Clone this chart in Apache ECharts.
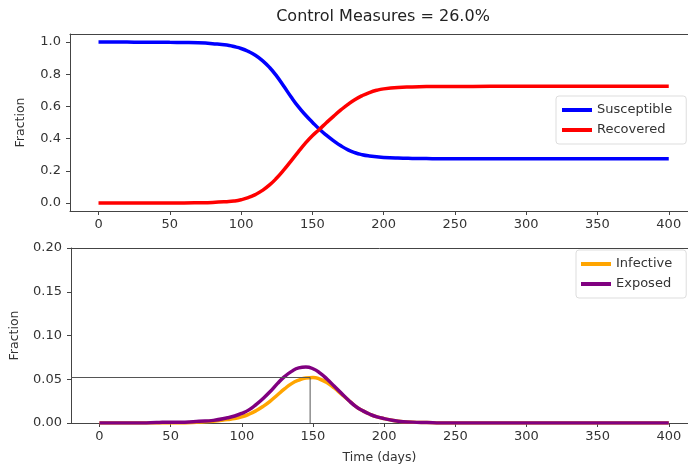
<!DOCTYPE html>
<html>
<head>
<meta charset="utf-8">
<script src="https://cdn.jsdelivr.net/npm/echarts@6/dist/echarts.min.js"></script>
<style>
    html, body { margin: 0; padding: 0; background: #fff; }
    #container { width: 688px; height: 468px; }
</style>
</head>
<body>
<div id="container"></div>
<script type="text/javascript">
    // time axis (days) and the four compartments
    var days = [0, 10, 20, 30, 40, 50, 60, 70, 80, 90,
        95, 100, 105, 110, 115, 120, 125, 130, 135, 140, 145, 150, 155, 160, 165, 170, 175, 180, 185, 190, 195, 200,
        210, 220, 230, 240, 250,
        275, 300, 325, 350, 375, 400];
    var susceptible = [1.000, 1.000, 1.000, 0.999, 0.999, 0.998, 0.997, 0.995, 0.990, 0.982,
        0.972, 0.960, 0.942, 0.918, 0.885, 0.842, 0.788, 0.725, 0.660, 0.600, 0.548, 0.502, 0.458, 0.420, 0.386, 0.355, 0.330, 0.312, 0.300, 0.292, 0.287, 0.283,
        0.279, 0.277, 0.276, 0.275, 0.275,
        0.275, 0.275, 0.275, 0.275, 0.275, 0.275];
    var recovered = [0, 0, 0, 0, 0, 0, 0, 0.001, 0.003, 0.008,
        0.012, 0.020, 0.033, 0.052, 0.078, 0.112, 0.155, 0.205, 0.260, 0.316, 0.370, 0.418, 0.458, 0.500, 0.540, 0.578, 0.613, 0.643, 0.667, 0.686, 0.700, 0.709,
        0.718, 0.721, 0.723, 0.724, 0.724,
        0.725, 0.725, 0.725, 0.725, 0.725, 0.725];
    var infective = [0, 0, 0, 0, 0, 0, 0, 0.001, 0.002, 0.004,
        0.005, 0.007, 0.010, 0.014, 0.019, 0.025, 0.032, 0.039, 0.045, 0.049, 0.0515, 0.052, 0.050, 0.046, 0.040, 0.033, 0.026, 0.019, 0.014, 0.010, 0.007, 0.005,
        0.002, 0.001, 0.0005, 0, 0,
        0, 0, 0, 0, 0, 0];
    var exposed = [0, 0, 0, 0, 0.0005, 0.001, 0.001, 0.002, 0.003, 0.006,
        0.008, 0.011, 0.015, 0.021, 0.028, 0.036, 0.045, 0.053, 0.059, 0.063, 0.064, 0.062, 0.057, 0.050, 0.042, 0.034, 0.026, 0.019, 0.014, 0.010, 0.007, 0.005,
        0.002, 0.001, 0.0005, 0, 0,
        0, 0, 0, 0, 0, 0];

    // peak of the infective curve (guide lines)
    var peakDay = 148;
    var peakFraction = 0.052;

    var xTicks = [0, 50, 100, 150, 200, 250, 300, 350, 400];
    var topYTicks = [0, 0.2, 0.4, 0.6, 0.8, 1.0];
    var bottomYTicks = [0, 0.05, 0.1, 0.15, 0.2];

    // the right side of the figure is cropped in the original
    var xMin = -20, xMax = 413.5;
    var font = 'DejaVu Sans';
    var ink = '#333';
    var spine = '#444';

    function pairs(ys) {
        return days.map(function (d, i) { return [d, ys[i]]; });
    }

    function xAxisFor(idx, withName) {
        return {
            type: 'value', gridIndex: idx, min: xMin, max: xMax, position: 'bottom',
            axisLine: { show: true, onZero: false, lineStyle: { color: spine, width: 1 } },
            axisTick: { show: true, length: 4, customValues: xTicks, lineStyle: { color: spine } },
            axisLabel: { customValues: xTicks, margin: 7, fontFamily: font, fontSize: 13, color: ink },
            splitLine: { show: false },
            name: withName ? 'Time (days)' : '',
            nameLocation: 'middle', nameGap: 28,
            nameTextStyle: { fontFamily: font, fontSize: 12.5, color: ink }
        };
    }

    // top spine only
    function topSpine(idx) {
        return {
            type: 'value', gridIndex: idx, min: xMin, max: xMax, position: 'top',
            axisLine: { show: true, onZero: false, lineStyle: { color: spine, width: 1 } },
            axisTick: { show: false }, axisLabel: { show: false }, splitLine: { show: false }
        };
    }

    function yAxisFor(idx, min, max, ticks, digits, gap) {
        return {
            type: 'value', gridIndex: idx, min: min, max: max, position: 'left',
            axisLine: { show: true, onZero: false, lineStyle: { color: spine, width: 1 } },
            axisTick: { show: true, length: 4, customValues: ticks, lineStyle: { color: spine } },
            axisLabel: {
                customValues: ticks, margin: 9, fontFamily: font, fontSize: 13, color: ink,
                formatter: function (v) { return v.toFixed(digits); }
            },
            splitLine: { show: false },
            name: 'Fraction', nameLocation: 'middle', nameGap: gap,
            nameTextStyle: { fontFamily: font, fontSize: 12.5, color: ink }
        };
    }

    function curve(name, ys, color, idx, z) {
        return {
            name: name, type: 'line', xAxisIndex: idx, yAxisIndex: idx,
            data: pairs(ys), symbol: 'none', smooth: 0.5,
            lineStyle: { color: color, width: 3.5 }, itemStyle: { color: color },
            z: z
        };
    }

    var legendBase = {
        orient: 'vertical', icon: 'rect', itemWidth: 30, itemHeight: 4, itemGap: 6,
        backgroundColor: 'rgba(255,255,255,0.8)', borderColor: '#ddd', borderWidth: 1, borderRadius: 3,
        textStyle: { fontFamily: font, fontSize: 13, color: ink, lineHeight: 14 }
    };

    var dom = document.getElementById('container');
    var myChart = echarts.init(dom, null, { renderer: 'canvas' });
    var option = {
        animation: false,
        backgroundColor: '#fff',
        graphic: [{
            type: 'text', x: 383, y: 17,
            style: { text: 'Control Measures = 26.0%', font: '16px "DejaVu Sans"', fill: '#222', textAlign: 'center', textVerticalAlign: 'middle' }
        }],
        grid: [
            { left: 70, top: 34, right: 0, height: 177 },
            { left: 70, top: 248, right: 0, height: 175 }
        ],
        xAxis: [xAxisFor(0, false), xAxisFor(1, true), topSpine(0), topSpine(1)],
        yAxis: [
            yAxisFor(0, -0.05, 1.05, topYTicks, 1, 43),
            yAxisFor(1, 0, 0.2, bottomYTicks, 2, 50)
        ],
        legend: [
            Object.assign({}, legendBase, { data: ['Susceptible', 'Recovered'], left: 556, top: 96, padding: [7, 14, 7, 6] }),
            Object.assign({}, legendBase, { data: ['Infective', 'Exposed'], left: 576, top: 250, padding: [7, 14, 7, 5] })
        ],
        series: [
            curve('Susceptible', susceptible, '#0000ff', 0, 2),
            curve('Recovered', recovered, '#ff0000', 0, 3),
            curve('Infective', infective, '#ffa500', 1, 2),
            curve('Exposed', exposed, '#800080', 1, 3),
            {
                name: 'peak', type: 'line', xAxisIndex: 1, yAxisIndex: 1, symbol: 'none', silent: true,
                data: [[xMin, peakFraction], [peakDay, peakFraction], [peakDay, 0]],
                lineStyle: { color: '#555', width: 1 }, z: 4
            }
        ]
    };
    myChart.setOption(option, true);
</script>
</body>
</html>
